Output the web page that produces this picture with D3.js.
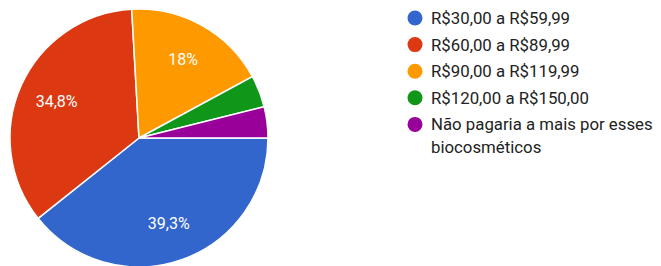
<!DOCTYPE html>
<html>
<head>
<meta charset="utf-8">
<script src="https://cdn.jsdelivr.net/npm/d3@7"></script>
<style>
  body { margin: 0; background: #fff; }
  svg { display: block; font-family: Roboto, Arial, sans-serif; }
</style>
</head>
<body>
<div id="container"></div>
<script>
var categories = ["R$30,00 a R$59,99", "R$60,00 a R$89,99", "R$90,00 a R$119,99", "R$120,00 a R$150,00", "Não pagaria a mais por esses biocosméticos"];
var values = [39.3, 34.8, 18, 4.0, 3.9]; // percent
var sliceLabels = ["39,3%", "34,8%", "18%", "", ""];
var colors = ["#3366cc", "#dc3912", "#ff9900", "#109618", "#990099"];

var width = 661;
var height = 266;
var cx = 139, cy = 138, radius = 129;

var svg = d3.select("#container")
    .append("svg")
    .attr("width", width)
    .attr("height", height);

var pie = d3.pie()
    .sort(null)
    .value(function (d) { return d; })
    .startAngle(Math.PI / 2)
    .endAngle(Math.PI / 2 + 2 * Math.PI);

var arc = d3.arc().innerRadius(0).outerRadius(radius);
var labelArc = d3.arc().innerRadius(radius * 0.7).outerRadius(radius * 0.7);

var chart = svg.append("g")
    .attr("transform", "translate(" + cx + "," + cy + ")");

var slices = chart.selectAll("g.slice")
    .data(pie(values))
    .enter()
    .append("g")
    .attr("class", "slice");

slices.append("path")
    .attr("d", arc)
    .attr("fill", function (d, i) { return colors[i]; })
    .attr("stroke", "#fff")
    .attr("stroke-width", 1.5);

slices.append("text")
    .attr("transform", function (d) { return "translate(" + labelArc.centroid(d) + ")"; })
    .attr("text-anchor", "middle")
    .attr("dy", "0.35em")
    .attr("fill", "#fff")
    .attr("font-size", "16px")
    .text(function (d, i) { return sliceLabels[i]; });

// legend
var legendX = 415, legendY = 18, rowH = 26.6;
var legend = svg.selectAll("g.legend")
    .data(categories)
    .enter()
    .append("g")
    .attr("class", "legend")
    .attr("transform", function (d, i) { return "translate(" + legendX + "," + (legendY + i * rowH) + ")"; });

legend.append("circle")
    .attr("r", 7.5)
    .attr("fill", function (d, i) { return colors[i]; });

legend.append("text")
    .attr("x", 16)
    .attr("fill", "#222")
    .attr("font-size", "16.8px")
    .each(function (d) {
        var t = d3.select(this);
        var lines = d === categories[4] ? ["Não pagaria a mais por esses", "biocosméticos"] : [d];
        lines.forEach(function (line, j) {
            t.append("tspan")
                .attr("x", 16)
                .attr("dy", j === 0 ? "0.36em" : "22.5px")
                .text(line);
        });
    });
</script>
</body>
</html>
